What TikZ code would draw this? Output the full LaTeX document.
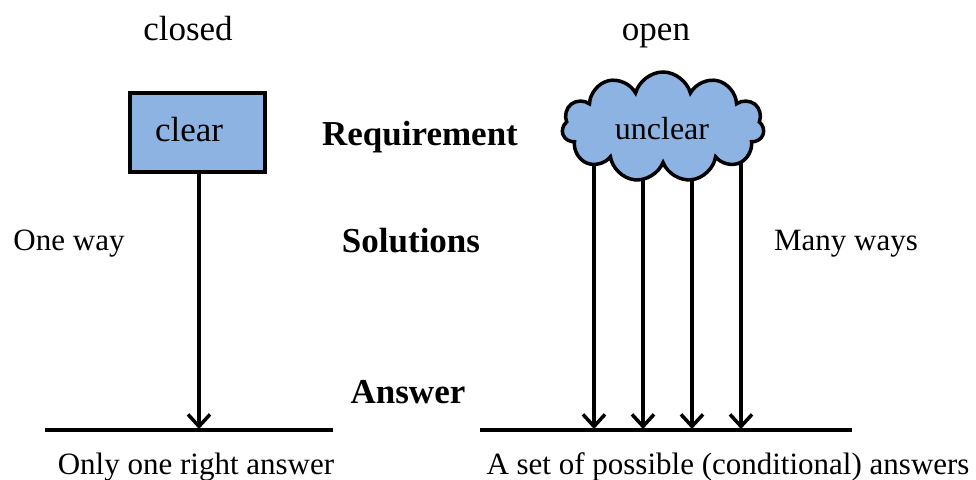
\documentclass[tikz,border=0pt]{standalone}
\usepackage{fontspec}
\setmainfont{Liberation Serif}
\usetikzlibrary{shapes.symbols,arrows.meta,backgrounds}
\definecolor{boxblue}{HTML}{8DB3E2}
\tikzset{
  txt/.style={inner sep=0pt, anchor=base, font=\fontsize{31}{37}\selectfont},
  big/.style={inner sep=0pt, anchor=base, font=\fontsize{35}{42}\selectfont},
  bigbold/.style={inner sep=0pt, anchor=base, font=\fontsize{35}{42}\selectfont\bfseries},
  baseline/.style={line width=3.5pt},
  arr/.style={line width=3.5pt, -{Straight Barb[length=12pt,width=22pt,line width=3.5pt]}},
  bluebox/.style={draw, fill=boxblue, line width=3.5pt, inner sep=0pt},
}
\begin{document}
\begin{tikzpicture}[x=1pt,y=-1pt]
\useasboundingbox (0,0) rectangle (976,479);
% titles
\node[big] (closed) at (188,40) {closed};
\node[big] (open) at (656,40) {open};
\node[bigbold] (req) at (420,145) {Requirement};
\node[bigbold] (sol) at (411,252) {Solutions};
\node[bigbold] (ans) at (408,403) {Answer};
\node[txt] (oneway) at (69,250) {One way};
\node[txt] (manyways) at (846,250) {Many ways};
\node[txt] (only) at (196,474) {Only one right answer};
\node[txt] (aset) at (728,474) {A set of possible (conditional) answers};
% left side
\node[bluebox, minimum width=135pt, minimum height=79pt] (box) at (197.5,132.5) {};
\node[big] (cleartxt) at (189,141) {clear};
\coordinate (L1) at (45,430);
\coordinate (L2) at (333,430);
\draw[baseline] (L1) -- (L2);
\coordinate (LT) at (199,429);
\draw[arr] (box.south -| LT) -- (LT);
% right side
\coordinate (R1) at (480,430);
\coordinate (R2) at (852,430);
\draw[baseline] (R1) -- (R2);
\coordinate (c1) at (594,140);
\coordinate (c2) at (643,140);
\coordinate (c3) at (692,140);
\coordinate (c4) at (741,140);
\node[cloud, cloud puffs=11, cloud ignores aspect, draw, fill=boxblue, line width=3.5pt,
      minimum width=202pt, minimum height=110pt] (cloud) at (663,127) {};
\node[txt, font=\fontsize{32}{38}\selectfont] (uncleartxt) at (662,139) {unclear};
\begin{scope}[on background layer]
\foreach \c in {c1,c2,c3,c4}
  \draw[arr] (\c) -- (\c |- LT);
\end{scope}
\end{tikzpicture}
\end{document}
